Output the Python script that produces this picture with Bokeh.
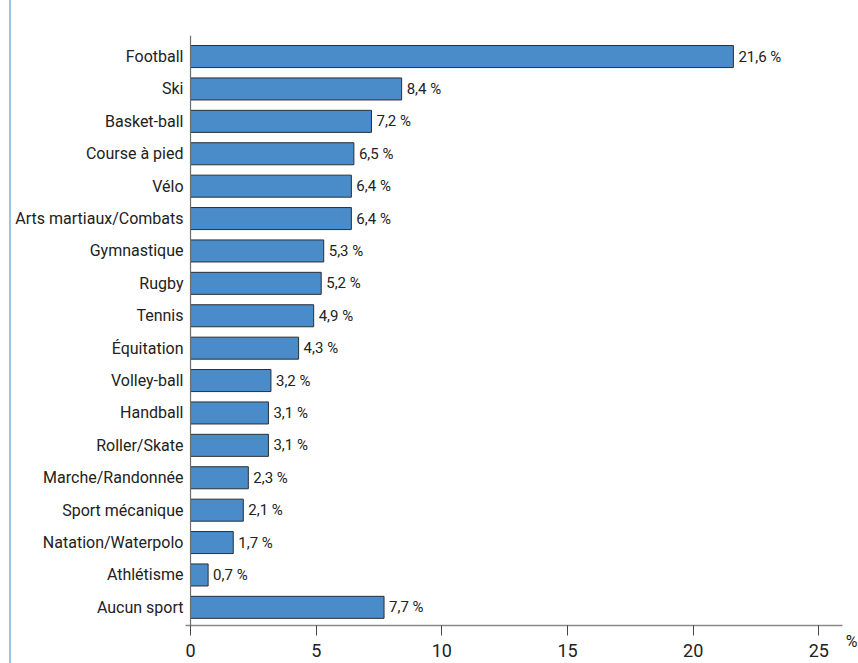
from bokeh.plotting import figure
from bokeh.models import Range1d, FixedTicker, Span, ColumnDataSource, InlineStyleSheet
from bokeh.core.properties import value
from bokeh.embed import file_html
from bokeh.resources import INLINE

sports = ["Football", "Ski", "Basket-ball", "Course à pied", "Vélo",
          "Arts martiaux/Combats", "Gymnastique", "Rugby", "Tennis", "Équitation",
          "Volley-ball", "Handball", "Roller/Skate", "Marche/Randonnée",
          "Sport mécanique", "Natation/Waterpolo", "Athlétisme", "Aucun sport"]
values = [21.6, 8.4, 7.2, 6.5, 6.4, 6.4, 5.3, 5.2, 4.9, 4.3,
          3.2, 3.1, 3.1, 2.3, 2.1, 1.7, 0.7, 7.7]
x_ticks = [0, 5, 10, 15, 20, 25]
unit_label = "%"

FONT = "Roboto"

n = len(sports)
ys = [n - 1 - i for i in range(n)]
labels = [f"{v:.1f}".replace(".", ",") + " %" for v in values]
src = ColumnDataSource(dict(y=ys, v=values, lab=labels, name=sports))

W, H = 858, 663
p = figure(width=W, height=H, output_backend="svg", toolbar_location=None,
           x_range=Range1d(-0.2, 26.3), y_range=Range1d(-0.56, n - 1 + 0.65),
           min_border_left=185, min_border_right=7, min_border_top=35,
           min_border_bottom=38)
p.outline_line_color = None
p.xgrid.grid_line_color = None
p.ygrid.grid_line_color = None
p.background_fill_color = "white"
p.border_fill_color = "white"

p.hbar(y="y", right="v", left=0, height=0.68, source=src,
       fill_color="#4a8bca", line_color="#2b2f36", line_width=1)

p.text(x="v", y="y", text="lab", source=src, x_offset=5,
       text_baseline="middle", text_align="left",
       text_font=value(FONT), text_font_size="15px", text_color="#222222")

p.add_layout(Span(location=0, dimension="height", line_color="#6e6e6e", line_width=1.2))

xa = p.xaxis[0]
xa.ticker = FixedTicker(ticks=x_ticks)
xa.bounds = (-0.2, 25.95)
xa.axis_line_color = "#8a8a8a"
xa.axis_line_width = 1.5
xa.major_tick_in = 0
xa.major_tick_out = 10
xa.major_tick_line_color = "#444444"
xa.minor_tick_line_color = None
xa.major_label_standoff = 8
xa.major_label_text_font = FONT
xa.major_label_text_font_size = "18px"
xa.major_label_text_color = "#222222"

xa.axis_label = unit_label
xa.axis_label_text_font = FONT
xa.axis_label_text_font_style = "normal"
xa.axis_label_text_font_size = "16px"
xa.axis_label_text_color = "#222222"
xa.axis_label_standoff = -28
try:
    xa.axis_label_align = "end"
except AttributeError:
    pass

ya = p.yaxis[0]
ya.ticker = FixedTicker(ticks=ys)
ya.major_label_overrides = {y: s for y, s in zip(ys, sports)}
ya.axis_line_color = None
ya.major_tick_line_color = None
ya.minor_tick_line_color = None
ya.major_tick_out = 0
ya.major_tick_in = 0
ya.major_label_standoff = 2
ya.major_label_text_font = FONT
ya.major_label_text_font_size = "16px"
ya.major_label_text_color = "#222222"

p.stylesheets = [InlineStyleSheet(css="""
:host { position: relative; }
:host::before { content: ""; position: absolute; left: 9px; top: 0; width: 2px;
  height: 100%; background: #9cc3e8; z-index: 5; pointer-events: none; }
""")]

open("out.html", "w").write(file_html(p, INLINE))
